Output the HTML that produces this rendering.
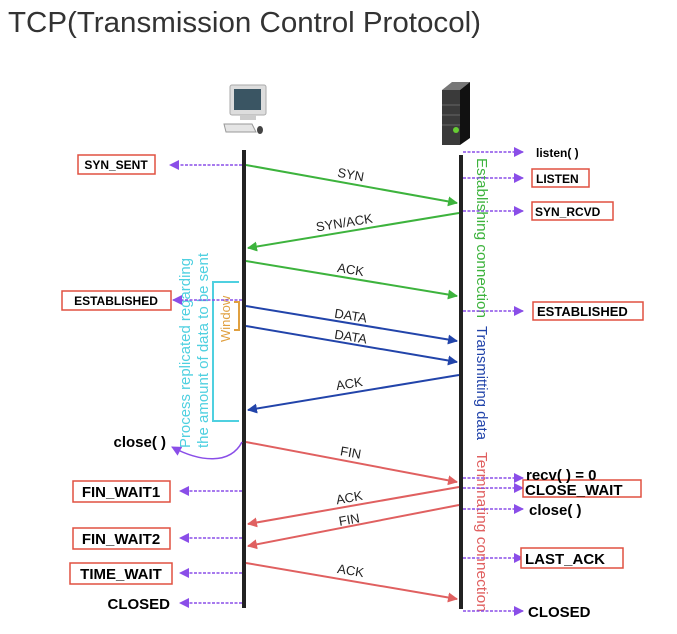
<!DOCTYPE html>
<html><head><style>
body{margin:0;background:#fff;width:677px;height:629px;overflow:hidden;font-family:"Liberation Sans",sans-serif}
</style></head><body>
<svg width="677" height="629" xmlns="http://www.w3.org/2000/svg" font-family="Liberation Sans, sans-serif">
<defs>
<marker id="g" markerWidth="10" markerHeight="10" refX="9" refY="5" orient="auto" markerUnits="userSpaceOnUse"><path d="M0,0L10,5L0,10z" fill="#3db33d"/></marker>
<marker id="b" markerWidth="10" markerHeight="10" refX="9" refY="5" orient="auto" markerUnits="userSpaceOnUse"><path d="M0,0L10,5L0,10z" fill="#2244aa"/></marker>
<marker id="r" markerWidth="10" markerHeight="10" refX="9" refY="5" orient="auto" markerUnits="userSpaceOnUse"><path d="M0,0L10,5L0,10z" fill="#e06060"/></marker>
<marker id="p" markerWidth="10" markerHeight="10" refX="9" refY="5" orient="auto" markerUnits="userSpaceOnUse"><path d="M0,0L10,5L0,10z" fill="#8a4ee8"/></marker>
</defs>
<text x="8" y="32" font-size="29" fill="#333" textLength="473" lengthAdjust="spacingAndGlyphs">TCP(Transmission Control Protocol)</text>

<!-- computer -->
<g>
<rect x="230" y="85" width="36" height="30" rx="2" fill="#ddd" stroke="#aaa"/>
<rect x="234" y="89" width="27" height="21" fill="#3a5563"/>
<rect x="240" y="115" width="16" height="5" fill="#ccc"/>
<path d="M224 124 L252 124 L256 132 L226 132z" fill="#e5e5e5" stroke="#999"/>
<ellipse cx="260" cy="130" rx="3" ry="4" fill="#444"/>
</g>
<!-- server -->
<g>
<path d="M442 90 L452 82 L470 82 L460 90z" fill="#777"/>
<rect x="442" y="90" width="18" height="55" fill="#3a3a3a"/>
<path d="M460 90 L470 82 L470 138 L460 145z" fill="#111"/>
<line x1="442" y1="105" x2="460" y2="105" stroke="#666"/>
<line x1="442" y1="115" x2="460" y2="115" stroke="#666"/>
<line x1="442" y1="125" x2="460" y2="125" stroke="#666"/>
<circle cx="456" cy="130" r="3" fill="#6c3"/>
</g>

<!-- lifelines -->
<line x1="244" y1="150" x2="244" y2="608" stroke="#222" stroke-width="4"/>
<line x1="461" y1="155" x2="461" y2="609" stroke="#222" stroke-width="4"/>

<!-- messages -->
<g stroke-width="2" fill="none">
<line x1="246" y1="165" x2="457" y2="203" stroke="#3db33d" marker-end="url(#g)"/>
<line x1="459" y1="213" x2="248" y2="248" stroke="#3db33d" marker-end="url(#g)"/>
<line x1="246" y1="261" x2="457" y2="296" stroke="#3db33d" marker-end="url(#g)"/>
<line x1="246" y1="306" x2="457" y2="341" stroke="#2244aa" marker-end="url(#b)"/>
<line x1="246" y1="326" x2="457" y2="362" stroke="#2244aa" marker-end="url(#b)"/>
<line x1="459" y1="375" x2="248" y2="410" stroke="#2244aa" marker-end="url(#b)"/>
<line x1="246" y1="442" x2="457" y2="482" stroke="#e06060" marker-end="url(#r)"/>
<line x1="459" y1="487" x2="248" y2="524" stroke="#e06060" marker-end="url(#r)"/>
<line x1="459" y1="505" x2="248" y2="546" stroke="#e06060" marker-end="url(#r)"/>
<line x1="246" y1="563" x2="457" y2="599" stroke="#e06060" marker-end="url(#r)"/>
</g>
<g font-size="13" fill="#222">
<text x="350" y="179" transform="rotate(10 350 179)" text-anchor="middle">SYN</text>
<text x="345" y="227" transform="rotate(-9 345 227)" text-anchor="middle">SYN/ACK</text>
<text x="350" y="274" transform="rotate(9 350 274)" text-anchor="middle">ACK</text>
<text x="350" y="320" transform="rotate(9 350 320)" text-anchor="middle">DATA</text>
<text x="350" y="341" transform="rotate(9 350 341)" text-anchor="middle">DATA</text>
<text x="350" y="388" transform="rotate(-9 350 388)" text-anchor="middle">ACK</text>
<text x="350" y="457" transform="rotate(10 350 457)" text-anchor="middle">FIN</text>
<text x="350" y="502" transform="rotate(-10 350 502)" text-anchor="middle">ACK</text>
<text x="350" y="524" transform="rotate(-10 350 524)" text-anchor="middle">FIN</text>
<text x="350" y="575" transform="rotate(9 350 575)" text-anchor="middle">ACK</text>
</g>

<!-- vertical phase labels -->
<g font-size="14.5">
<text transform="translate(477 158) rotate(90)" fill="#3db33d" textLength="160" lengthAdjust="spacingAndGlyphs">Establishing connection</text>
<text transform="translate(477 326) rotate(90)" fill="#2244aa" textLength="114" lengthAdjust="spacingAndGlyphs">Transmitting data</text>
<text transform="translate(477 452) rotate(90)" fill="#e06060" textLength="160" lengthAdjust="spacingAndGlyphs">Terminating connection</text>
</g>

<!-- left cyan -->
<g fill="#4fd0e0" font-size="15">
<text transform="translate(190 448) rotate(-90)" textLength="190" lengthAdjust="spacingAndGlyphs">Process replicated regarding</text>
<text transform="translate(208 448) rotate(-90)" textLength="195" lengthAdjust="spacingAndGlyphs">the amount of data to be sent</text>
</g>
<path d="M239 282 L213 282 L213 421 L239 421" stroke="#4fd0e0" stroke-width="2" fill="none"/>
<path d="M234 302 L239 302 L239 330 L234 330" stroke="#e0a040" stroke-width="2" fill="none"/>
<text transform="translate(230 342) rotate(-90)" fill="#e0a040" font-size="13">Window</text>

<!-- purple state arrows -->
<g stroke="#8a4ee8" stroke-width="1.5" stroke-dasharray="3,1.5" fill="none">
<line x1="242" y1="165" x2="170" y2="165" marker-end="url(#p)"/>
<line x1="242" y1="300" x2="173" y2="300" marker-end="url(#p)"/>
<path d="M242 442 C230 465 200 462 172 447" marker-end="url(#p)" stroke-dasharray="none"/>
<line x1="242" y1="491" x2="180" y2="491" marker-end="url(#p)"/>
<line x1="242" y1="538" x2="180" y2="538" marker-end="url(#p)"/>
<line x1="242" y1="573" x2="180" y2="573" marker-end="url(#p)"/>
<line x1="242" y1="603" x2="180" y2="603" marker-end="url(#p)"/>
<line x1="463" y1="152" x2="523" y2="152" marker-end="url(#p)"/>
<line x1="463" y1="178" x2="523" y2="178" marker-end="url(#p)"/>
<line x1="463" y1="211" x2="523" y2="211" marker-end="url(#p)"/>
<line x1="463" y1="311" x2="523" y2="311" marker-end="url(#p)"/>
<line x1="463" y1="478" x2="523" y2="478" marker-end="url(#p)"/>
<line x1="463" y1="488" x2="523" y2="488" marker-end="url(#p)"/>
<line x1="463" y1="509" x2="523" y2="509" marker-end="url(#p)"/>
<line x1="463" y1="558" x2="523" y2="558" marker-end="url(#p)"/>
<line x1="463" y1="611" x2="523" y2="611" marker-end="url(#p)"/>
</g>

<!-- state boxes -->
<g fill="#fff" stroke="#e05040" stroke-width="1.5">
<rect x="78" y="155" width="77" height="19"/>
<rect x="62" y="291" width="109" height="19"/>
<rect x="73" y="481" width="97" height="21"/>
<rect x="73" y="528" width="97" height="21"/>
<rect x="70" y="563" width="102" height="21"/>
<rect x="532" y="169" width="57" height="18"/>
<rect x="532" y="202" width="81" height="18"/>
<rect x="533" y="302" width="110" height="18"/>
<rect x="523" y="480" width="118" height="17"/>
<rect x="521" y="548" width="102" height="20"/>
</g>
<g font-weight="bold" fill="#000">
<text x="116" y="169" font-size="12" text-anchor="middle">SYN_SENT</text>
<text x="116" y="305" font-size="12" text-anchor="middle">ESTABLISHED</text>
<text x="166" y="447" font-size="15" text-anchor="end">close( )</text>
<text x="121" y="497" font-size="15" text-anchor="middle">FIN_WAIT1</text>
<text x="121" y="544" font-size="15" text-anchor="middle">FIN_WAIT2</text>
<text x="121" y="579" font-size="15" text-anchor="middle">TIME_WAIT</text>
<text x="170" y="609" font-size="15" text-anchor="end">CLOSED</text>
<text x="536" y="157" font-size="12">listen( )</text>
<text x="536" y="183" font-size="12">LISTEN</text>
<text x="535" y="216" font-size="12">SYN_RCVD</text>
<text x="537" y="316" font-size="13">ESTABLISHED</text>
<text x="526" y="480" font-size="15">recv( ) = 0</text>
<text x="525" y="495" font-size="15">CLOSE_WAIT</text>
<text x="529" y="515" font-size="15">close( )</text>
<text x="525" y="564" font-size="15">LAST_ACK</text>
<text x="528" y="617" font-size="15">CLOSED</text>
</g>
</svg>
</body></html>
